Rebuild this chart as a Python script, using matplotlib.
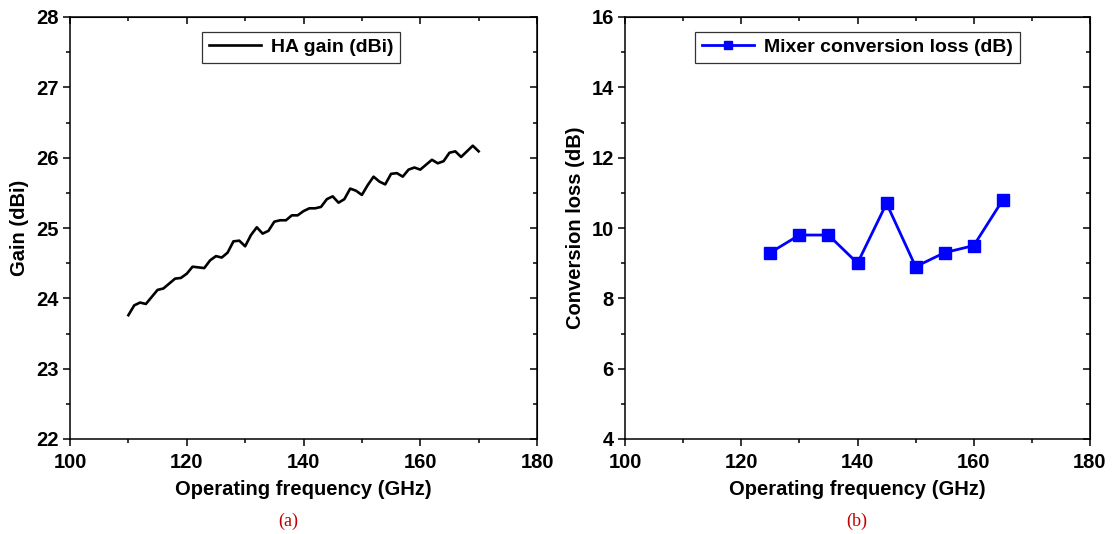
import numpy as np
import matplotlib.pyplot as plt
from matplotlib.ticker import MultipleLocator

plt.rcParams['font.family'] = ['Liberation Sans', 'DejaVu Sans']
plt.rcParams['font.weight'] = 'bold'

# (a) 喇叭天线增益
freq_a = np.arange(110, 171, 1)
gain = [23.76, 23.90, 23.94, 23.92, 24.02, 24.12, 24.14, 24.21, 24.28, 24.29,
        24.35, 24.45, 24.44, 24.43, 24.54, 24.60, 24.58, 24.65, 24.81, 24.82,
        24.74, 24.90, 25.01, 24.92, 24.96, 25.09, 25.11, 25.11, 25.18, 25.18,
        25.24, 25.28, 25.28, 25.30, 25.41, 25.45, 25.36, 25.41, 25.56, 25.53,
        25.47, 25.61, 25.73, 25.66, 25.62, 25.77, 25.78, 25.73, 25.83, 25.86,
        25.83, 25.90, 25.97, 25.92, 25.95, 26.07, 26.09, 26.01, 26.09, 26.17,
        26.09]

# (b) 混频器变频损耗
freq_b = [125, 130, 135, 140, 145, 150, 155, 160, 165]
conv_loss = [9.3, 9.8, 9.8, 9.0, 10.7, 8.9, 9.3, 9.5, 10.8]

fig = plt.figure(figsize=(11.12, 5.34), dpi=100)
ax1 = fig.add_axes([70 / 1112, 1 - 439 / 534, 467 / 1112, 422 / 534])
ax2 = fig.add_axes([625 / 1112, 1 - 439 / 534, 465 / 1112, 422 / 534])


def style(ax, ymin, ymax, ymaj, ymin_step):
    ax.set_xlim(100, 180)
    ax.set_ylim(ymin, ymax)
    ax.xaxis.set_major_locator(MultipleLocator(20))
    ax.xaxis.set_minor_locator(MultipleLocator(10))
    ax.yaxis.set_major_locator(MultipleLocator(ymaj))
    ax.yaxis.set_minor_locator(MultipleLocator(ymin_step))
    for s in ax.spines.values():
        s.set_linewidth(1.1)
    ax.tick_params(which='both', direction='out', width=1.1, labelsize=14.5)
    ax.tick_params(which='major', length=5, pad=3)
    ax.tick_params(axis='x', which='major', pad=5)
    ax.tick_params(which='minor', length=3)
    # 上边和右边的刻度朝内
    top = ax.secondary_xaxis('top')
    top.xaxis.set_major_locator(MultipleLocator(20))
    top.xaxis.set_minor_locator(MultipleLocator(10))
    top.tick_params(which='both', direction='in', labeltop=False, width=1.1)
    top.tick_params(which='major', length=5)
    top.tick_params(which='minor', length=3)
    right = ax.secondary_yaxis('right')
    right.yaxis.set_major_locator(MultipleLocator(ymaj))
    right.yaxis.set_minor_locator(MultipleLocator(ymin_step))
    right.tick_params(which='both', direction='in', labelright=False, width=1.1)
    right.tick_params(which='major', length=5)
    right.tick_params(which='minor', length=3)
    ax.set_xlabel('Operating frequency (GHz)', fontsize=14.5, fontweight='bold', labelpad=6)


style(ax1, 22, 28, 1, 0.5)
ax1.plot(freq_a, gain, color='black', linewidth=1.9, label='HA gain (dBi)')
ax1.set_ylabel('Gain (dBi)', fontsize=14.5, fontweight='bold', labelpad=5)
leg1 = ax1.legend(loc='upper center', bbox_to_anchor=(0.495, 0.965), borderaxespad=0,
                  fancybox=False, edgecolor='black', handlelength=2.7, borderpad=0.35,
                  handletextpad=0.5, prop={'weight': 'bold', 'size': 14})
leg1.get_frame().set_linewidth(0.9)

style(ax2, 4, 16, 2, 1)
ax2.plot(freq_b, conv_loss, color='#0000ff', linewidth=2, marker='s', markersize=9,
         label='Mixer conversion loss (dB)')
ax2.set_ylabel('Conversion loss (dB)', fontsize=14.5, fontweight='bold', labelpad=5)
leg2 = ax2.legend(loc='upper center', bbox_to_anchor=(0.5, 0.965), borderaxespad=0,
                  fancybox=False, edgecolor='black', handlelength=2.7, borderpad=0.35,
                  handletextpad=0.5, markerscale=0.7, prop={'weight': 'bold', 'size': 14})
leg2.get_frame().set_linewidth(0.9)

fig.text(288 / 1112, 1 - 521 / 534, '(a)', family='Liberation Serif', fontsize=13,
         fontweight='normal', color='#c00000', ha='center', va='center')
fig.text(857 / 1112, 1 - 521 / 534, '(b)', family='Liberation Serif', fontsize=13,
         fontweight='normal', color='#c00000', ha='center', va='center')

fig.savefig('out.png', dpi=100)
